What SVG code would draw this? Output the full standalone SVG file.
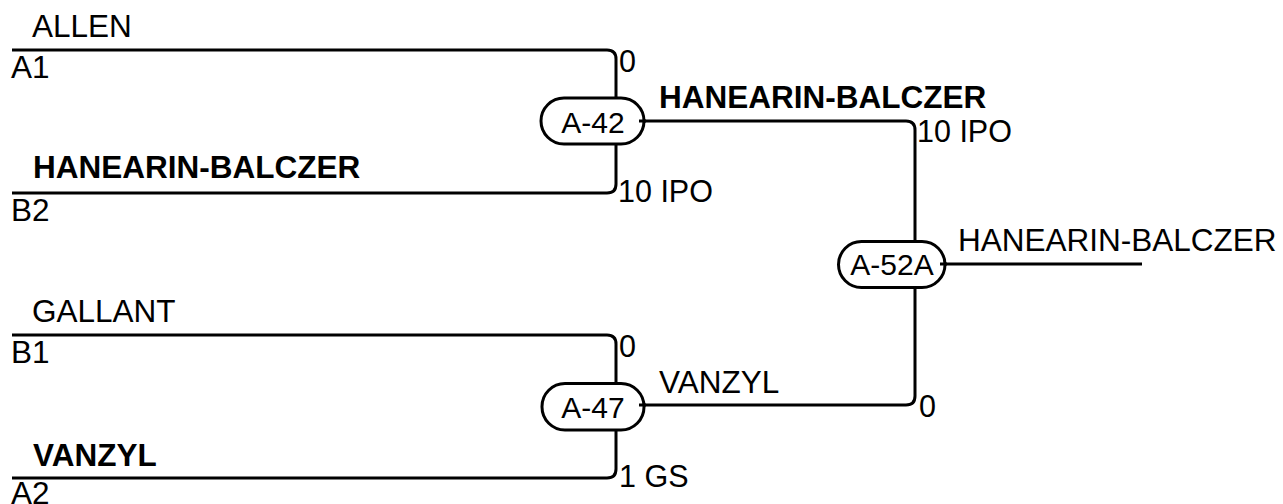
<svg xmlns="http://www.w3.org/2000/svg" width="1283" height="504" viewBox="0 0 1283 504">
<style>
text{font-family:"Liberation Sans",Arial,sans-serif;fill:#000}
.lbl{font-size:31.5px}
.b{font-weight:bold}
.sc{font-size:30.5px}
.nt{font-size:30px;text-anchor:middle}
.ln{fill:none;stroke:#000;stroke-width:3}
.pill{fill:#fff;stroke:#000;stroke-width:3}
</style>
<rect width="1283" height="504" fill="#fff"/>
<g id="connectors">
<path class="ln" d="M12,50 H607 Q616,50 616,59 V98"/>
<path class="ln" d="M616,144 V184 Q616,193 607,193 H12"/>
<path class="ln" d="M12,335 H607 Q616,335 616,344 V383"/>
<path class="ln" d="M616,430 V469 Q616,478 607,478 H12"/>
<path class="ln" d="M639,121 H906 Q915,121 915,130 V242"/>
<path class="ln" d="M915,287 V396 Q915,405 906,405 H639"/>
<path class="ln" d="M940,264 H1142"/>
</g>
<g id="A-42">
<rect class="pill" x="541" y="98" width="103" height="46" rx="23"/>
<text class="nt" x="593" y="133">A-42</text>
</g>
<g id="A-47">
<rect class="pill" x="542" y="383.5" width="102" height="46.5" rx="23"/>
<text class="nt" x="593" y="418">A-47</text>
</g>
<g id="A-52A">
<rect class="pill" x="838.5" y="241.5" width="106.5" height="46" rx="23"/>
<text class="nt" x="892" y="275">A-52A</text>
</g>
<g id="port-ticks">
<path class="ln" d="M639,121 H646"/>
<path class="ln" d="M639,405 H646"/>
<path class="ln" d="M940,264 H947"/>
</g>
<g id="labels">
<text class="lbl" x="32" y="37">ALLEN</text>
<text class="lbl" x="11" y="78">A1</text>
<text class="lbl b" x="33" y="178">HANEARIN-BALCZER</text>
<text class="lbl" x="11" y="221">B2</text>
<text class="lbl" x="32" y="322">GALLANT</text>
<text class="lbl" x="11" y="363">B1</text>
<text class="lbl b" x="33" y="466">VANZYL</text>
<text class="lbl" x="11" y="504">A2</text>
<text class="lbl b" x="659" y="108">HANEARIN-BALCZER</text>
<text class="lbl" x="659" y="393">VANZYL</text>
<text class="lbl" x="958" y="251">HANEARIN-BALCZER</text>
<text class="sc" x="619" y="72">0</text>
<text class="sc" x="618" y="202">10 IPO</text>
<text class="sc" x="619" y="357">0</text>
<text class="sc" x="619" y="487">1 GS</text>
<text class="sc" x="917" y="142">10 IPO</text>
<text class="sc" x="919" y="417">0</text>
</g>
</svg>
